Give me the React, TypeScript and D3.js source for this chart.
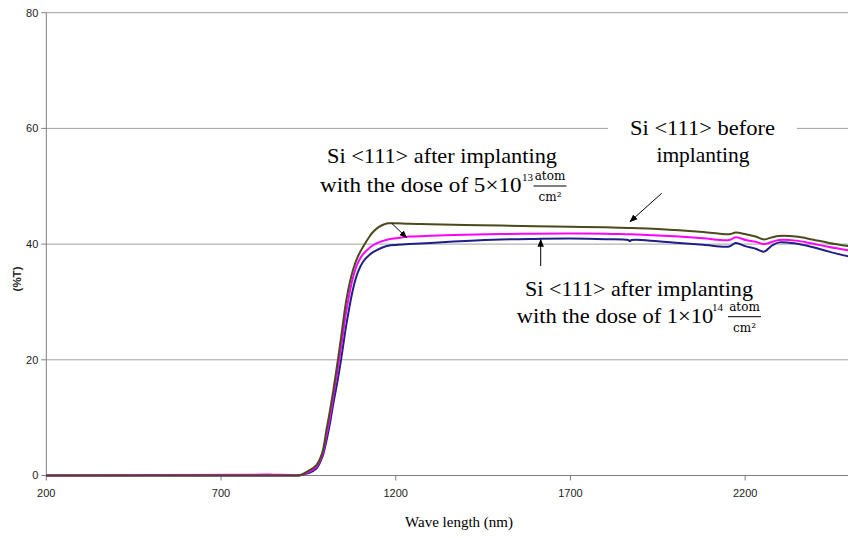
import React from 'react';
import * as d3 from 'd3';

// Wavelength samples (nm) shared by the three transmission spectra
const wavelengths = [
  200, 800, 850, 900, 926, 950, 973, 990, 1002, 1012, 1021, 1035, 1045, 1059, 1078, 1092,
  1107, 1126, 1135, 1150, 1164, 1178, 1200, 1240, 1300, 1400, 1500, 1600, 1700, 1800,
  1865, 1870, 1875, 1950, 2011, 2080, 2154, 2173, 2202, 2230, 2254, 2278, 2297, 2345,
  2392, 2440, 2500,
];

// Transmission (%T) of Si <111> before implanting
const beforeImplant = [
  0, 0, 0, 0, 0.05, 0.8, 1.8, 4.0, 8.0, 11.3, 14.6, 20.2, 24.5, 30.5, 35.6, 37.9,
  39.6, 41.4, 42.1, 42.9, 43.35, 43.6, 43.6, 43.5, 43.45, 43.3, 43.2, 43.1, 43.0, 42.9,
  42.8, 42.8, 42.8, 42.6, 42.4, 42.1, 41.7, 42.0, 41.7, 41.3, 40.8, 41.2, 41.4, 41.3,
  40.8, 40.2, 39.6,
];

// Transmission after implanting with 5×10^13 atom/cm²
const dose5e13 = [
  0, 0.15, 0.15, 0.1, 0.05, 0.6, 1.5, 3.6, 7.0, 10.2, 13.6, 18.8, 22.8, 28.6, 34.3, 36.8,
  38.3, 39.4, 39.8, 40.25, 40.55, 40.8, 41.0, 41.3, 41.45, 41.6, 41.75, 41.8, 41.85, 41.8,
  41.7, 41.7, 41.7, 41.5, 41.3, 41.0, 40.7, 41.2, 40.7, 40.4, 40.0, 40.4, 40.7, 40.6,
  40.1, 39.5, 38.9,
];

// Transmission after implanting with 1×10^14 atom/cm²
const dose1e14 = [
  0, 0, 0, 0, 0.03, 0.4, 1.2, 3.2, 6.1, 9.1, 12.3, 16.9, 20.6, 26.2, 32.3, 35.2,
  37.0, 38.2, 38.6, 39.1, 39.45, 39.7, 39.85, 40.0, 40.2, 40.55, 40.8, 40.9, 40.95, 40.85,
  40.7, 40.5, 40.7, 40.5, 40.2, 39.9, 39.6, 40.2, 39.6, 39.2, 38.7, 39.8, 40.3, 40.1,
  39.5, 38.7, 37.8,
];

const xTicks = [200, 700, 1200, 1700, 2200];
const yTicks = [0, 20, 40, 60, 80];

const SERIF = '"Liberation Serif", "Times New Roman", serif';
const MATH = '"DejaVu Serif", serif';
const SANS = '"Liberation Sans", Arial, sans-serif';

function Fraction({ cx, base }: { cx: number; base: number }) {
  return (
    <g fontFamily={MATH} fill="#000">
      <text x={cx} y={base - 12.3} fontSize={12} textAnchor="middle">atom</text>
      <line x1={cx - 16.5} x2={cx + 16.5} y1={base - 6.3} y2={base - 6.3} stroke="#000" strokeWidth={1} />
      <text x={cx} y={base + 8.7} fontSize={12} textAnchor="middle">cm²</text>
    </g>
  );
}

export default function App() {
  const W = 848;
  const H = 538;
  const x = d3.scaleLinear().domain([200, 2500]).range([46.3, 850]);
  const y = d3.scaleLinear().domain([0, 80]).range([475.5, 12.7]);

  const line = d3
    .line<number>()
    .x((_, i) => x(wavelengths[i]))
    .y((d) => y(d))
    .curve(d3.curveCatmullRom.alpha(0.5));

  const series = [
    { values: dose1e14, color: '#1f1f86' },
    { values: dose5e13, color: '#ff00ff' },
    { values: beforeImplant, color: '#4a4a1c' },
  ];

  const x0 = x(200);
  const x1 = x(2500);

  return (
    <svg
      width={W}
      height={H}
      style={{ position: 'absolute', left: 0, top: 0, background: '#fff' }}
    >
      <defs>
        <marker id="head" viewBox="0 0 10 10" refX="9" refY="5" markerWidth="8" markerHeight="8" orient="auto" markerUnits="userSpaceOnUse">
          <path d="M0,1 L10,5 L0,9 Z" fill="#000" />
        </marker>
      </defs>

      {/* gridlines */}
      {yTicks.filter((t) => t > 0).map((t) => (
        <line key={t} x1={x0} x2={x1} y1={y(t)} y2={y(t)} stroke="#a0a0a0" strokeWidth={1} />
      ))}

      {/* axes */}
      <line x1={x0} x2={x0} y1={y(80)} y2={y(0)} stroke="#808080" strokeWidth={1} />
      <line x1={x0} x2={x1} y1={y(0)} y2={y(0)} stroke="#808080" strokeWidth={1} />
      {yTicks.map((t) => (
        <g key={t}>
          <line x1={x0 - 5} x2={x0} y1={y(t)} y2={y(t)} stroke="#808080" />
          <text x={x0 - 8} y={y(t)} dy="0.35em" fontSize={11} fontFamily={SANS} textAnchor="end" fill="#222">
            {t}
          </text>
        </g>
      ))}
      {xTicks.map((t) => (
        <g key={t}>
          <line x1={x(t)} x2={x(t)} y1={y(0)} y2={y(0) + 5} stroke="#808080" />
          <text x={x(t)} y={497} fontSize={11} fontFamily={SANS} textAnchor="middle" fill="#222">
            {t}
          </text>
        </g>
      ))}

      {/* axis titles */}
      <text
        transform="translate(21,279) rotate(-90)"
        fontSize={11.5}
        fontWeight="bold"
        fontFamily={SANS}
        textAnchor="middle"
        fill="#222"
      >
        (%T)
      </text>
      <text x={459} y={527} fontSize={15} fontFamily={SERIF} textAnchor="middle" fill="#000">
        Wave length (nm)
      </text>

      {/* spectra */}
      {series.map((s, i) => (
        <path key={i} d={line(s.values) ?? ''} fill="none" stroke={s.color} strokeWidth={2} strokeLinejoin="round" />
      ))}

      {/* label: 5×10^13 */}
      <g fontFamily={SERIF} fontSize={21.5} fill="#000" style={{ whiteSpace: 'pre' }}>
        <text x={327} y={163.3} textLength={230} lengthAdjust="spacingAndGlyphs">Si {'<'}111{'>'}  after implanting</text>
        <text x={320} y={192.3} textLength={201.5} lengthAdjust="spacingAndGlyphs">with the dose of 5×10</text>
        <text x={522} y={180.7} fontSize={11}>13</text>
      </g>
      <Fraction cx={550} base={192.3} />
      <line x1={391.7} y1={223.3} x2={406.7} y2={237.7} stroke="#000" strokeWidth={1} markerEnd="url(#head)" />

      {/* label: before implanting */}
      <rect x={608} y={113} width={189} height={56} fill="#fff" />
      <g fontFamily={SERIF} fontSize={21.5} fill="#000" style={{ whiteSpace: 'pre' }}>
        <text x={630} y={135} textLength={145} lengthAdjust="spacingAndGlyphs">Si {'<'}111{'>'}  before</text>
        <text x={703} y={161.7} textAnchor="middle">implanting</text>
      </g>
      <line x1={661.7} y1={193.3} x2={630} y2={221.7} stroke="#000" strokeWidth={1} markerEnd="url(#head)" />

      {/* label: 1×10^14 */}
      <g fontFamily={SERIF} fontSize={21.5} fill="#000" style={{ whiteSpace: 'pre' }}>
        <text x={525} y={295.5} textLength={228} lengthAdjust="spacingAndGlyphs">Si {'<'}111{'>'}  after implanting</text>
        <text x={516.7} y={323} textLength={196.6} lengthAdjust="spacingAndGlyphs">with the dose of 1×10</text>
        <text x={712} y={311.4} fontSize={11}>14</text>
      </g>
      <Fraction cx={744.5} base={323} />
      <line x1={540.7} y1={266} x2={540.7} y2={239.5} stroke="#000" strokeWidth={1} markerEnd="url(#head)" />
    </svg>
  );
}
